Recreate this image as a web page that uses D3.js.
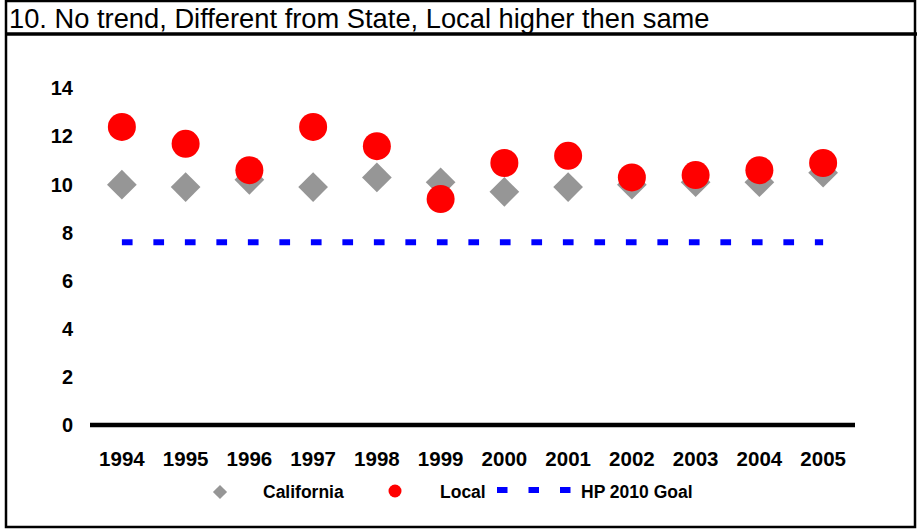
<!DOCTYPE html>
<html>
<head>
<meta charset="utf-8">
<script src="https://cdn.jsdelivr.net/npm/d3@7"></script>
<style>
  html, body { margin: 0; padding: 0; background: #fff; }
  svg { display: block; }
  text { font-family: "Liberation Sans", Arial, sans-serif; }
</style>
</head>
<body>
<svg id="chart" width="917" height="529"></svg>
<script>
// Rates by year
const years = ["1994","1995","1996","1997","1998","1999","2000","2001","2002","2003","2004","2005"];
const california = [10.0, 9.9, 10.2, 9.9, 10.3, 10.1, 9.7, 9.9, 10.0, 10.1, 10.1, 10.5];
const local      = [12.4, 11.7, 10.6, 12.4, 11.6, 9.4, 10.9, 11.2, 10.3, 10.4, 10.6, 10.9];
const goal       = [7.6, 7.6, 7.6, 7.6, 7.6, 7.6, 7.6, 7.6, 7.6, 7.6, 7.6, 7.6];
const yTicks     = [0, 2, 4, 6, 8, 10, 12, 14];
const title = "10. No trend, Different from State, Local higher then same";

const svg = d3.select("#chart");
const W = 917, H = 529;

// frame and title bar
svg.append("rect").attr("x", 6).attr("y", 1).attr("width", W - 8).attr("height", H - 3)
  .attr("fill", "none").attr("stroke", "#000").attr("stroke-width", 2.5);
svg.append("line").attr("x1", 6).attr("x2", W).attr("y1", 34).attr("y2", 34)
  .attr("stroke", "#000").attr("stroke-width", 3.5);
svg.append("text").attr("x", 9).attr("y", 28).attr("font-size", 27.3).attr("fill", "#000")
  .text(title);

// scales
const plotLeft = 90, plotRight = 855;
const x = d3.scaleBand().domain(years).range([plotLeft, plotRight]);
const y = d3.scaleLinear().domain([0, 14]).range([425, 88.5]);
const cx = d => x(d) + x.bandwidth() / 2;

// y axis labels
const yAxis = d3.axisLeft(y).tickValues(yTicks).tickSize(0).tickPadding(0).tickFormat(d3.format("d"));
const gy = svg.append("g").attr("transform", "translate(73,0)").call(yAxis);
gy.select(".domain").remove();
gy.selectAll("text").attr("font-size", 20).attr("font-weight", "bold").attr("fill", "#000")
  .attr("font-family", "'Liberation Sans', Arial, sans-serif");

// x axis labels
const xAxis = d3.axisBottom(x).tickSize(0).tickPadding(0);
const gx = svg.append("g").attr("transform", "translate(0,451)").call(xAxis);
gx.select(".domain").remove();
gx.selectAll("text").attr("font-size", 20.5).attr("font-weight", "bold").attr("fill", "#000")
  .attr("font-family", "'Liberation Sans', Arial, sans-serif");

// baseline at zero
svg.append("line").attr("x1", plotLeft).attr("x2", plotRight).attr("y1", y(0)).attr("y2", y(0))
  .attr("stroke", "#000").attr("stroke-width", 4.5);

// HP 2010 goal
const goalLine = d3.line().x((d, i) => cx(years[i])).y(d => y(d));
svg.append("path").datum(goal).attr("d", goalLine).attr("fill", "none")
  .attr("stroke", "#0000ff").attr("stroke-width", 6).attr("stroke-dasharray", "10.7,20.8");

// California diamonds
const diamond = d3.symbol().type(d3.symbolSquare).size(441);
svg.append("g").selectAll("path").data(california).join("path")
  .attr("d", diamond)
  .attr("transform", (d, i) => `translate(${cx(years[i])},${y(d)}) rotate(45)`)
  .attr("fill", "#969696");

// Local circles
svg.append("g").selectAll("circle").data(local).join("circle")
  .attr("cx", (d, i) => cx(years[i])).attr("cy", d => y(d)).attr("r", 14)
  .attr("fill", "#ff0000");

// legend
const lg = svg.append("g").attr("font-size", 17.5).attr("font-weight", "bold");
lg.append("path").attr("d", d3.symbol().type(d3.symbolSquare).size(100))
  .attr("transform", "translate(220,492) rotate(45)").attr("fill", "#969696");
lg.append("text").attr("x", 263).attr("y", 498).text("California");
lg.append("circle").attr("cx", 395).attr("cy", 491).attr("r", 6.5).attr("fill", "#ff0000");
lg.append("text").attr("x", 440).attr("y", 498).text("Local");
lg.append("line").attr("x1", 497).attr("x2", 571).attr("y1", 490).attr("y2", 490)
  .attr("stroke", "#0000ff").attr("stroke-width", 6).attr("stroke-dasharray", "10.5,21");
lg.append("text").attr("x", 581).attr("y", 498).text("HP 2010 Goal");
</script>
</body>
</html>
